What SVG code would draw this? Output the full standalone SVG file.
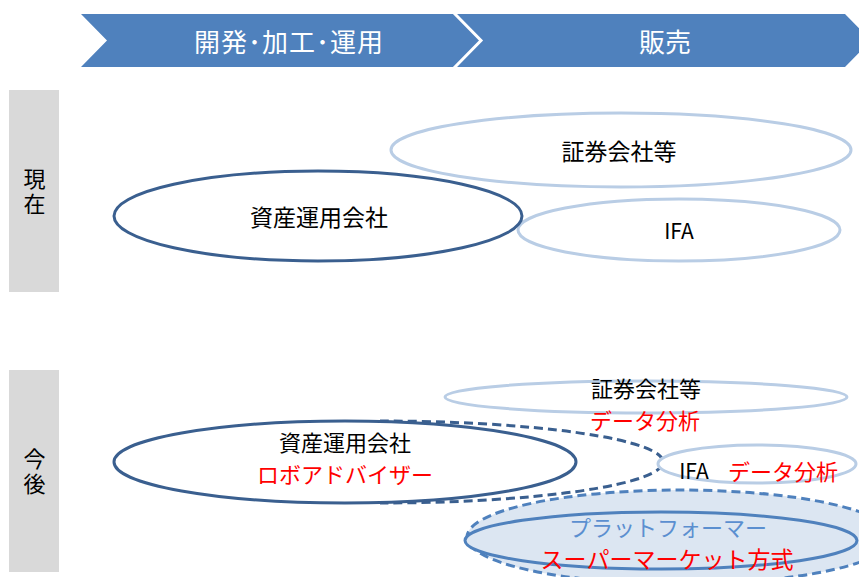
<svg xmlns="http://www.w3.org/2000/svg" width="859" height="577" viewBox="0 0 859 577">
<style>
text { font-family: "Noto Sans CJK JP", "Noto Sans", sans-serif; dominant-baseline: central; text-anchor: middle; }
.hdr { fill: #FFFFFF; font-size: 26px; }
.lbl { fill: #000000; font-size: 22px; writing-mode: vertical-rl; text-orientation: upright; letter-spacing: 3px; }
.blk { fill: #000000; font-size: 22px; }
.red { fill: #FF0000; font-size: 22px; }
.ifa { fill: #000000; font-size: 21px; }
.dark { fill: #FFFFFF; stroke: #3A5F8F; stroke-width: 3; }
.light { fill: #FFFFFF; stroke: #B9CDE5; stroke-width: 3; }
.plat { fill: #DCE6F2; stroke: #4F81BD; stroke-width: 3; }
.side { fill: #D9D9D9; }
</style>
<rect width="859" height="577" fill="#FFFFFF"/>

<g id="header">
  <polygon points="81,14 455,14 481,40.5 455,67 81,67 107,40.5" fill="#4F81BD"/>
  <polygon points="455,14 845,14 871,40.5 845,67 455,67 481,40.5" fill="#4F81BD"/>
  <polyline points="454,13 481,40.5 454,68" fill="none" stroke="#FFFFFF" stroke-width="3"/>
  <text class="hdr" x="289" y="40" style="letter-spacing:1px">開発･加工･運用</text>
  <text class="hdr" x="665" y="40">販売</text>
</g>

<g id="row-now">
  <rect class="side" x="9" y="90" width="50" height="202"/>
  <text class="lbl" x="34.5" y="193">現在</text>
</g>
<g id="row-future">
  <rect class="side" x="9" y="370" width="50" height="202"/>
  <text class="lbl" x="34.5" y="473">今後</text>
</g>

<g id="now-securities">
  <ellipse class="light" cx="621" cy="150" rx="230" ry="37"/>
  <text class="blk" x="619" y="150" style="font-size:23px">証券会社等</text>
</g>
<g id="now-ifa">
  <ellipse class="light" cx="679" cy="230" rx="161" ry="31"/>
  <text class="ifa" x="679" y="230">IFA</text>
</g>
<g id="now-asset">
  <ellipse class="dark" cx="318" cy="216" rx="204" ry="45"/>
  <text class="blk" x="319" y="216" style="font-size:23px">資産運用会社</text>
</g>

<g id="future-securities">
  <ellipse class="light" cx="646" cy="397" rx="201" ry="16"/>
  <text class="blk" x="646" y="386.5">証券会社等</text>
  <text class="red" x="645" y="418.5">データ分析</text>
</g>

<g id="connectors">
  <path d="M 380 421 A 283 41 0 0 1 380 503" fill="none" stroke="#3A5F8F" stroke-width="3" stroke-dasharray="9,5"/>
</g>

<g id="future-asset">
  <ellipse class="dark" cx="345" cy="462" rx="231" ry="41"/>
  <text class="blk" x="345" y="440.5">資産運用会社</text>
  <text class="red" x="345" y="473">ロボアドバイザー</text>
</g>

<g id="future-ifa">
  <ellipse class="light" cx="757" cy="464" rx="99" ry="19"/>
  <text class="ifa" x="694" y="470">IFA</text>
  <text class="red" x="783" y="470">データ分析</text>
</g>

<g id="future-platform">
  <ellipse cx="680" cy="537" rx="213" ry="47" fill="#DCE6F2" stroke="#4F81BD" stroke-width="3" stroke-dasharray="9,5"/>
  <ellipse class="plat" cx="661" cy="540.5" rx="196" ry="28.5"/>
  <text x="668" y="525.5" style="fill:#5B8FD0;font-size:22px">プラットフォーマー</text>
  <text class="red" x="667" y="558" style="font-size:23px">スーパーマーケット方式</text>
</g>
</svg>
